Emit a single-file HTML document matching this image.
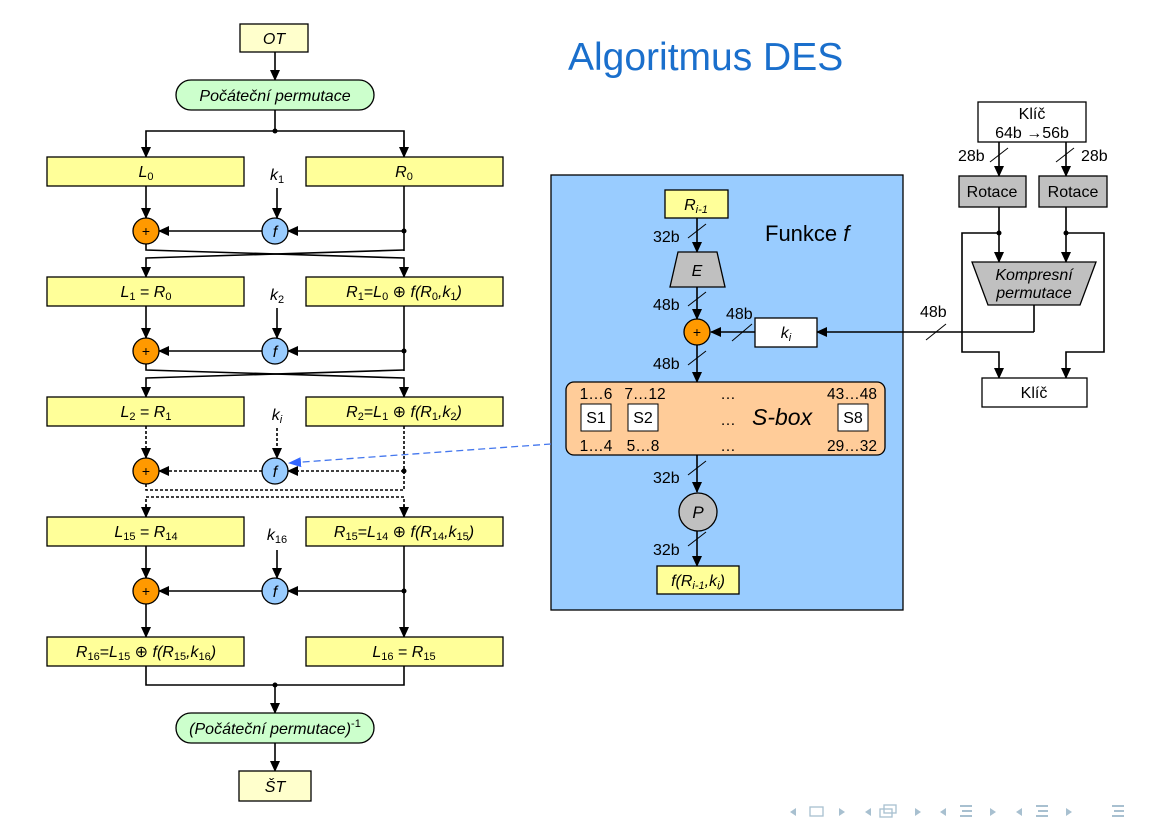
<!DOCTYPE html>
<html><head><meta charset="utf-8">
<style>
html,body{margin:0;padding:0;background:#fff;}
svg{display:block;}
text{font-family:"Liberation Sans",Arial,sans-serif;}
</style></head><body>
<svg width="1162" height="826" viewBox="0 0 1162 826" xmlns="http://www.w3.org/2000/svg">
<defs>
<marker id="a" markerWidth="11" markerHeight="11" refX="10" refY="5.5" orient="auto" markerUnits="userSpaceOnUse"><path d="M0,0.5 L11,5.5 L0,10.5 z" fill="#000"/></marker>
<marker id="b" markerWidth="13" markerHeight="11" refX="12" refY="5.5" orient="auto" markerUnits="userSpaceOnUse"><path d="M0,0.5 L13,5.5 L0,10.5 z" fill="#3366ff"/></marker>
</defs>

<text x="568" y="70" font-size="39" fill="#1a6fcc">Algoritmus DES</text>

<g stroke="#000" stroke-width="1.6" fill="none">
<line x1="275" y1="52" x2="275" y2="80" marker-end="url(#a)"/>
<polyline points="146,156 146,131 404,131 404,156" />
<line x1="146" y1="140" x2="146" y2="157" marker-end="url(#a)"/>
<line x1="404" y1="140" x2="404" y2="157" marker-end="url(#a)"/>
<line x1="275" y1="110" x2="275" y2="131"/>

<line x1="146" y1="186" x2="146" y2="218" marker-end="url(#a)"/>
<line x1="277" y1="188" x2="277" y2="218" marker-end="url(#a)"/>
<line x1="404" y1="186" x2="404" y2="251"/>
<line x1="404" y1="231" x2="288" y2="231" marker-end="url(#a)"/>
<line x1="262" y1="231" x2="159" y2="231" marker-end="url(#a)"/>
<polyline points="146,244 146,250 404,258 404,277" marker-end="url(#a)"/>
<polyline points="404,250 146,258 146,277" marker-end="url(#a)"/>

<line x1="146" y1="306" x2="146" y2="338" marker-end="url(#a)"/>
<line x1="277" y1="308" x2="277" y2="338" marker-end="url(#a)"/>
<line x1="404" y1="306" x2="404" y2="371"/>
<line x1="404" y1="351" x2="288" y2="351" marker-end="url(#a)"/>
<line x1="262" y1="351" x2="159" y2="351" marker-end="url(#a)"/>
<polyline points="146,364 146,370 404,378 404,397" marker-end="url(#a)"/>
<polyline points="404,370 146,378 146,397" marker-end="url(#a)"/>
</g>

<g stroke="#000" stroke-width="1.6" fill="none" stroke-dasharray="3,2">
<line x1="146" y1="426" x2="146" y2="458" marker-end="url(#a)"/>
<line x1="277" y1="428" x2="277" y2="458" marker-end="url(#a)"/>
<line x1="404" y1="426" x2="404" y2="490"/>
<line x1="404" y1="471" x2="288" y2="471" marker-end="url(#a)"/>
<line x1="262" y1="471" x2="159" y2="471" marker-end="url(#a)"/>
<polyline points="146,484 146,490 404,490"/>
<polyline points="146,517 146,497 404,497 404,517" />
</g>
<g stroke="#000" stroke-width="1.6" fill="none">
<line x1="146" y1="505" x2="146" y2="517" marker-end="url(#a)"/>
<line x1="404" y1="505" x2="404" y2="517" marker-end="url(#a)"/>

<line x1="146" y1="546" x2="146" y2="578" marker-end="url(#a)"/>
<line x1="277" y1="550" x2="277" y2="578" marker-end="url(#a)"/>
<line x1="404" y1="546" x2="404" y2="637" marker-end="url(#a)"/>
<line x1="404" y1="591" x2="288" y2="591" marker-end="url(#a)"/>
<line x1="262" y1="591" x2="159" y2="591" marker-end="url(#a)"/>
<line x1="146" y1="604" x2="146" y2="637" marker-end="url(#a)"/>

<polyline points="146,666 146,685 404,685 404,666"/>
<line x1="275" y1="685" x2="275" y2="713" marker-end="url(#a)"/>
<line x1="275" y1="742" x2="275" y2="771" marker-end="url(#a)"/>
</g>
<g fill="#000">
<circle cx="275" cy="131" r="2.5"/>
<circle cx="404" cy="231" r="2.5"/>
<circle cx="404" cy="351" r="2.5"/>
<circle cx="404" cy="471" r="2.5"/>
<circle cx="404" cy="591" r="2.5"/>
<circle cx="275" cy="685" r="2.5"/>
</g>

<g stroke="#000" stroke-width="1.3">
<rect x="240" y="24" width="68" height="28" fill="#ffffcc"/>
<rect x="176" y="80" width="198" height="30" rx="15" fill="#ccffcc"/>
<rect x="47" y="157" width="197" height="29" fill="#ffff99"/>
<rect x="306" y="157" width="197" height="29" fill="#ffff99"/>
<rect x="47" y="277" width="197" height="29" fill="#ffff99"/>
<rect x="306" y="277" width="197" height="29" fill="#ffff99"/>
<rect x="47" y="397" width="197" height="29" fill="#ffff99"/>
<rect x="306" y="397" width="197" height="29" fill="#ffff99"/>
<rect x="47" y="517" width="197" height="29" fill="#ffff99"/>
<rect x="306" y="517" width="197" height="29" fill="#ffff99"/>
<rect x="47" y="637" width="197" height="29" fill="#ffff99"/>
<rect x="306" y="637" width="197" height="29" fill="#ffff99"/>
<rect x="176" y="713" width="198" height="30" rx="15" fill="#ccffcc"/>
<rect x="239" y="771" width="72" height="30" fill="#ffffcc"/>
</g>
<g stroke="#000" stroke-width="1.3">
<circle cx="146" cy="231" r="13" fill="#ff9900"/>
<circle cx="146" cy="351" r="13" fill="#ff9900"/>
<circle cx="146" cy="471" r="13" fill="#ff9900"/>
<circle cx="146" cy="591" r="13" fill="#ff9900"/>
<circle cx="275" cy="231" r="13" fill="#99ccff"/>
<circle cx="275" cy="351" r="13" fill="#99ccff"/>
<circle cx="275" cy="471" r="13" fill="#99ccff"/>
<circle cx="275" cy="591" r="13" fill="#99ccff"/>
</g>
<g font-size="14" text-anchor="middle">
<text x="146" y="236">+</text><text x="146" y="356">+</text><text x="146" y="476">+</text><text x="146" y="596">+</text>
</g>
<g font-size="16" text-anchor="middle" font-style="italic">
<text x="275" y="237">f</text><text x="275" y="357">f</text><text x="275" y="477">f</text><text x="275" y="597">f</text>
<text x="274" y="44">OT</text>
<text x="275" y="101">Počáteční permutace</text>
<text x="146" y="177">L<tspan font-size="11" dy="3" font-style="normal">0</tspan></text>
<text x="404" y="177">R<tspan font-size="11" dy="3" font-style="normal">0</tspan></text>
<text x="277" y="180">k<tspan font-size="11" dy="3" font-style="normal">1</tspan></text>
<text x="277" y="300">k<tspan font-size="11" dy="3" font-style="normal">2</tspan></text>
<text x="277" y="420">k<tspan font-size="11" dy="3">i</tspan></text>
<text x="277" y="540">k<tspan font-size="11" dy="3" font-style="normal">16</tspan></text>
<text x="146" y="297">L<tspan font-size="11" dy="3" font-style="normal">1</tspan><tspan dy="-3" font-style="normal"> = </tspan>R<tspan font-size="11" dy="3" font-style="normal">0</tspan></text>
<text x="404" y="297">R<tspan font-size="11" dy="3" font-style="normal">1</tspan><tspan dy="-3" font-style="normal">=</tspan>L<tspan font-size="11" dy="3" font-style="normal">0</tspan><tspan dy="-3" font-style="normal"> ⊕ </tspan>f(R<tspan font-size="11" dy="3" font-style="normal">0</tspan><tspan dy="-3">,k</tspan><tspan font-size="11" dy="3" font-style="normal">1</tspan><tspan dy="-3">)</tspan></text>
<text x="146" y="417">L<tspan font-size="11" dy="3" font-style="normal">2</tspan><tspan dy="-3" font-style="normal"> = </tspan>R<tspan font-size="11" dy="3" font-style="normal">1</tspan></text>
<text x="404" y="417">R<tspan font-size="11" dy="3" font-style="normal">2</tspan><tspan dy="-3" font-style="normal">=</tspan>L<tspan font-size="11" dy="3" font-style="normal">1</tspan><tspan dy="-3" font-style="normal"> ⊕ </tspan>f(R<tspan font-size="11" dy="3" font-style="normal">1</tspan><tspan dy="-3">,k</tspan><tspan font-size="11" dy="3" font-style="normal">2</tspan><tspan dy="-3">)</tspan></text>
<text x="146" y="537">L<tspan font-size="11" dy="3" font-style="normal">15</tspan><tspan dy="-3" font-style="normal"> = </tspan>R<tspan font-size="11" dy="3" font-style="normal">14</tspan></text>
<text x="404" y="537">R<tspan font-size="11" dy="3" font-style="normal">15</tspan><tspan dy="-3" font-style="normal">=</tspan>L<tspan font-size="11" dy="3" font-style="normal">14</tspan><tspan dy="-3" font-style="normal"> ⊕ </tspan>f(R<tspan font-size="11" dy="3" font-style="normal">14</tspan><tspan dy="-3">,k</tspan><tspan font-size="11" dy="3" font-style="normal">15</tspan><tspan dy="-3">)</tspan></text>
<text x="146" y="657">R<tspan font-size="11" dy="3" font-style="normal">16</tspan><tspan dy="-3" font-style="normal">=</tspan>L<tspan font-size="11" dy="3" font-style="normal">15</tspan><tspan dy="-3" font-style="normal"> ⊕ </tspan>f(R<tspan font-size="11" dy="3" font-style="normal">15</tspan><tspan dy="-3">,k</tspan><tspan font-size="11" dy="3" font-style="normal">16</tspan><tspan dy="-3">)</tspan></text>
<text x="404" y="657">L<tspan font-size="11" dy="3" font-style="normal">16</tspan><tspan dy="-3" font-style="normal"> = </tspan>R<tspan font-size="11" dy="3" font-style="normal">15</tspan></text>
<text x="275" y="734">(Počáteční permutace)<tspan font-size="11" dy="-7" font-style="normal">-1</tspan></text>
<text x="275" y="792">ŠT</text>
</g>

<rect x="551" y="175" width="352" height="435" fill="#99ccff" stroke="#000" stroke-width="1.3"/>
<line x1="551" y1="444" x2="289" y2="463" stroke="#4477ee" stroke-width="1.3" stroke-dasharray="7,4" marker-end="url(#b)"/>
<text x="765" y="241" font-size="22">Funkce <tspan font-style="italic">f</tspan></text>
<g stroke="#000" stroke-width="1.6" fill="none">
<line x1="697" y1="218" x2="697" y2="252" marker-end="url(#a)"/>
<line x1="697" y1="287" x2="697" y2="319" marker-end="url(#a)"/>
<line x1="755" y1="332" x2="711" y2="332" marker-end="url(#a)"/>
<line x1="697" y1="345" x2="697" y2="382" marker-end="url(#a)"/>
<line x1="697" y1="455" x2="697" y2="492" marker-end="url(#a)"/>
<line x1="697" y1="531" x2="697" y2="566" marker-end="url(#a)"/>
<line x1="1034" y1="305" x2="1034" y2="332"/>
<line x1="1034" y1="332" x2="817" y2="332" marker-end="url(#a)"/>
</g>
<g stroke="#000" stroke-width="1">
<line x1="688" y1="238" x2="706" y2="224"/>
<line x1="688" y1="306" x2="706" y2="292"/>
<line x1="732" y1="341" x2="752" y2="324"/>
<line x1="688" y1="365" x2="706" y2="351"/>
<line x1="688" y1="475" x2="706" y2="461"/>
<line x1="688" y1="546" x2="706" y2="532"/>
<line x1="926" y1="340" x2="946" y2="324"/>
</g>
<g font-size="16">
<text x="653" y="242">32b</text>
<text x="653" y="310">48b</text>
<text x="726" y="319">48b</text>
<text x="653" y="369">48b</text>
<text x="653" y="483">32b</text>
<text x="653" y="555">32b</text>
<text x="920" y="317">48b</text>
</g>
<rect x="665" y="190" width="63" height="28" fill="#ffff99" stroke="#000" stroke-width="1.3"/>
<text x="696" y="210" font-size="16" font-style="italic" text-anchor="middle">R<tspan font-size="11" dy="3">i-1</tspan></text>
<polygon points="678,252 717,252 725,287 670,287" fill="#c0c0c0" stroke="#000" stroke-width="1.3"/>
<text x="697" y="276" font-size="16" font-style="italic" text-anchor="middle">E</text>
<circle cx="697" cy="332" r="13" fill="#ff9900" stroke="#000" stroke-width="1.3"/>
<text x="697" y="337" font-size="14" text-anchor="middle">+</text>
<rect x="755" y="318" width="62" height="29" fill="#fff" stroke="#000" stroke-width="1.3"/>
<text x="786" y="338" font-size="16" font-style="italic" text-anchor="middle">k<tspan font-size="11" dy="3">i</tspan></text>
<rect x="566" y="382" width="319" height="73" rx="8" fill="#ffcc99" stroke="#000" stroke-width="1.3"/>
<g font-size="15.5" text-anchor="middle">
<text x="596" y="399">1…6</text><text x="645" y="399">7…12</text><text x="728" y="399">…</text><text x="852" y="399">43…48</text>
<text x="596" y="451">1…4</text><text x="643" y="451">5…8</text><text x="728" y="451">…</text><text x="852" y="451">29…32</text>
<text x="728" y="425">…</text>
</g>
<g stroke="#000" stroke-width="1" fill="#fff">
<rect x="581" y="404" width="30" height="27"/><rect x="628" y="404" width="30" height="27"/><rect x="838" y="404" width="30" height="27"/>
</g>
<g font-size="16" text-anchor="middle">
<text x="596" y="423">S1</text><text x="643" y="423">S2</text><text x="853" y="423">S8</text>
</g>
<text x="752" y="425" font-size="23" font-style="italic">S-box</text>
<circle cx="698" cy="512" r="19" fill="#c0c0c0" stroke="#000" stroke-width="1.3"/>
<text x="698" y="518" font-size="17" font-style="italic" text-anchor="middle">P</text>
<rect x="657" y="566" width="82" height="28" fill="#ffff99" stroke="#000" stroke-width="1.3"/>
<text x="698" y="586" font-size="16" font-style="italic" text-anchor="middle">f(R<tspan font-size="11" dy="3">i-1</tspan><tspan dy="-3">,k</tspan><tspan font-size="11" dy="3">i</tspan><tspan dy="-3">)</tspan></text>

<g stroke="#000" stroke-width="1.6" fill="none">
<line x1="999" y1="142" x2="999" y2="176" marker-end="url(#a)"/>
<line x1="1066" y1="142" x2="1066" y2="176" marker-end="url(#a)"/>
<line x1="999" y1="207" x2="999" y2="262" marker-end="url(#a)"/>
<line x1="1066" y1="207" x2="1066" y2="262" marker-end="url(#a)"/>
<polyline points="999,233 962,233 962,352 999,352 999,378" marker-end="url(#a)"/>
<polyline points="1066,233 1104,233 1104,352 1066,352 1066,378" marker-end="url(#a)"/>
</g>
<circle cx="999" cy="233" r="2.5"/><circle cx="1066" cy="233" r="2.5"/>
<g stroke="#000" stroke-width="1">
<line x1="990" y1="162" x2="1008" y2="148"/>
<line x1="1056" y1="162" x2="1074" y2="148"/>
</g>
<g font-size="16"><text x="958" y="161">28b</text><text x="1081" y="161">28b</text></g>
<rect x="978" y="102" width="108" height="40" fill="#fff" stroke="#000" stroke-width="1.3"/>
<text x="1032" y="119" font-size="16" text-anchor="middle">Klíč</text>
<text x="1032" y="138" font-size="16" text-anchor="middle">64b →56b</text>
<rect x="959" y="176" width="67" height="31" fill="#c0c0c0" stroke="#000" stroke-width="1.3"/>
<rect x="1039" y="176" width="68" height="31" fill="#c0c0c0" stroke="#000" stroke-width="1.3"/>
<text x="992" y="197" font-size="16" text-anchor="middle">Rotace</text>
<text x="1073" y="197" font-size="16" text-anchor="middle">Rotace</text>
<polygon points="972,262 1096,262 1080,305 988,305" fill="#c0c0c0" stroke="#000" stroke-width="1.3"/>
<text x="1034" y="280" font-size="16" font-style="italic" text-anchor="middle">Kompresní</text>
<text x="1034" y="298" font-size="16" font-style="italic" text-anchor="middle">permutace</text>
<rect x="982" y="378" width="105" height="29" fill="#fff" stroke="#000" stroke-width="1.3"/>
<text x="1034" y="398" font-size="16" text-anchor="middle">Klíč</text>

<g fill="#a8c0d0" stroke="none">
<path d="M790,812 l6,-4 v8z"/><rect x="810" y="807" width="13" height="9" fill="none" stroke="#a8c0d0" stroke-width="1.3"/><path d="M845,812 l-6,-4 v8z"/>
<path d="M865,812 l6,-4 v8z"/><rect x="880" y="809" width="12" height="8" fill="none" stroke="#a8c0d0" stroke-width="1.3"/><rect x="884" y="805" width="12" height="8" fill="none" stroke="#a8c0d0" stroke-width="1.3"/><path d="M921,812 l-6,-4 v8z"/>
<path d="M940,812 l6,-4 v8z"/><rect x="960" y="805" width="12" height="2"/><rect x="962" y="810" width="10" height="2"/><rect x="960" y="815" width="12" height="2"/><path d="M996,812 l-6,-4 v8z"/>
<path d="M1016,812 l6,-4 v8z"/><rect x="1036" y="805" width="12" height="2"/><rect x="1038" y="810" width="10" height="2"/><rect x="1036" y="815" width="12" height="2"/><path d="M1072,812 l-6,-4 v8z"/>
<rect x="1112" y="805" width="12" height="2"/><rect x="1114" y="810" width="10" height="2"/><rect x="1112" y="815" width="12" height="2"/>
</g>
</svg>
</body></html>
